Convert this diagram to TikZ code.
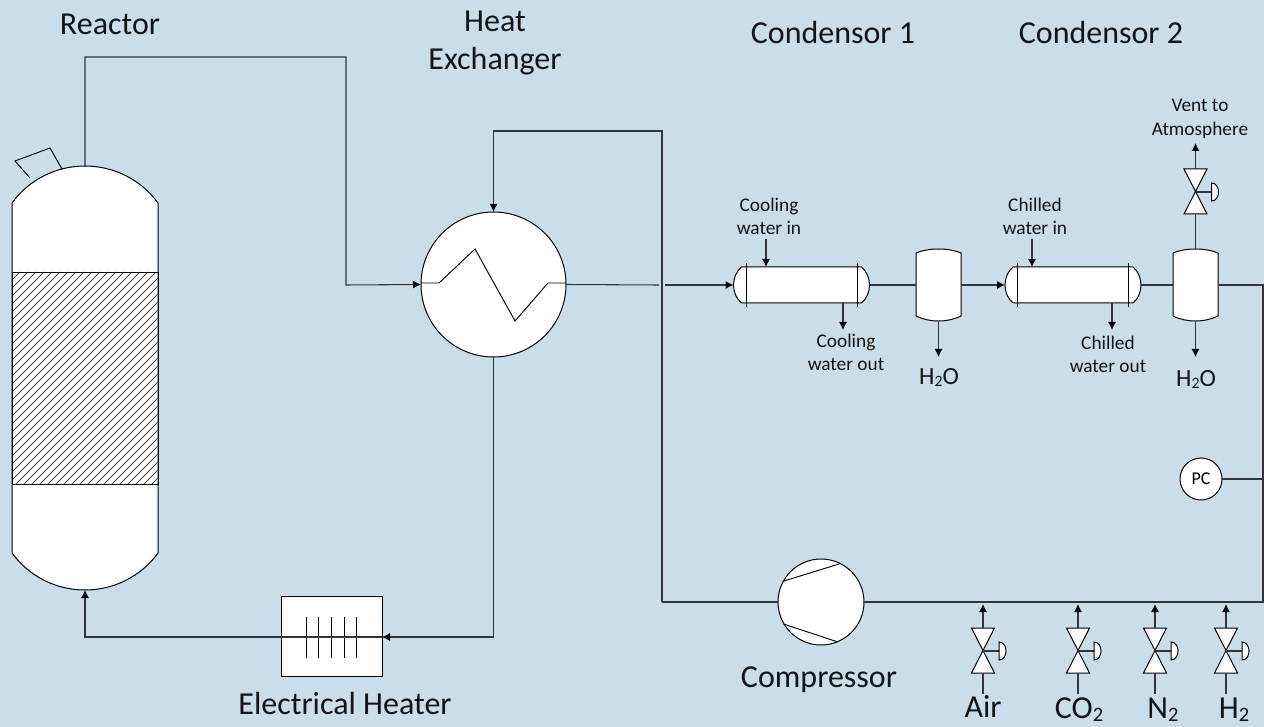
\documentclass[tikz,border=0pt]{standalone}
\usepackage{fontspec}
\setmainfont{Carlito}
\usetikzlibrary{arrows.meta}
\definecolor{bgblue}{HTML}{C9DEE9}
\definecolor{pipe}{HTML}{30363C}
\newcommand{\sbtwo}{\raisebox{-0.12em}{\scalebox{0.64}{2}}}
\tikzset{
  x=0.75pt,y=-0.75pt,
  pipeline/.style={draw=pipe,line width=0.8pt},
  flow/.style={pipeline,-{Latex[black,length=6pt,width=6pt]}},
  equip/.style={draw=black,line width=0.75pt,fill=white},
  inner/.style={draw=black,line width=0.7pt},
  bigtext/.style={font=\fontsize{24}{28.5}\selectfont,align=center,inner sep=0pt,text=black!92},
  midtext/.style={font=\fontsize{18.5}{22}\selectfont,align=center,inner sep=0pt,text=black!92},
  smalltext/.style={font=\fontsize{14.5}{17.5}\selectfont,align=center,inner sep=0pt,text=black!92},
  valvepic/.pic={
    \path[equip] (-11.5,-23) -- (11.5,-23) -- (-11.5,22) -- (11.5,22) -- cycle;
    \draw[pipeline] (0,0) -- (16,0);
    \path[equip] (16,-9) .. controls (21,-9) and (23,-4) .. (23,0) .. controls (23,4) and (21,9) .. (16,9) -- cycle;
    \coordinate (top) at (0,-23);
    \coordinate (bot) at (0,22);
  },
  condpic/.pic={
    \path[equip] (-60,-18) -- (60,-18) .. controls (65,-14) and (68,-7) .. (68,0) .. controls (68,7) and (65,14) .. (60,18) -- (-60,18) .. controls (-65,14) and (-68,7) .. (-68,0) .. controls (-68,-7) and (-65,-14) .. (-60,-18) -- cycle;
    \draw[inner] (-55.5,-22) -- (-55.5,22) (55.5,-22) -- (55.5,22);
    \coordinate (west) at (-68,0);
    \coordinate (east) at (68,0);
  },
  drumpic/.pic={
    \path[equip] (-22.5,-32) .. controls (-15,-35) and (-8,-36) .. (0,-36) .. controls (8,-36) and (15,-35) .. (22.5,-32) -- (22.5,31) .. controls (15,34.5) and (8,36) .. (0,36) .. controls (-8,36) and (-15,34.5) .. (-22.5,31) -- cycle;
    \coordinate (top) at (0,-36);
    \coordinate (bot) at (0,36);
    \coordinate (west) at (-22.5,0);
    \coordinate (east) at (22.5,0);
  },
}
\begin{document}
\begin{tikzpicture}
\useasboundingbox (0,0) rectangle (1264,727);
\fill[bgblue] (0,0) rectangle (1264,727);

% free corner and junction coordinates
\coordinate (rtop) at (85,166);
\coordinate (rbot) at (85,590);
\coordinate (c1) at (85,57);
\coordinate (c2) at (346,57);
\coordinate (c3) at (346,285);
\coordinate (c4) at (662,131);
\coordinate (c5) at (493.5,131);
\coordinate (c6) at (662,602);
\coordinate (c7) at (1263,602);
\coordinate (c8) at (1263,285);
\coordinate (gapL) at (659,285);
\coordinate (gapR) at (665,285);
\coordinate (c9) at (493.5,637);
\coordinate (c10) at (85,637);
\coordinate (cwin) at (766,239);
\coordinate (cwout) at (843,330);
\coordinate (cwintip) at (766,267);
\coordinate (cwoutst) at (843,303);
\coordinate (chin) at (1032,239);
\coordinate (chout) at (1112,330);
\coordinate (chintip) at (1032,267);
\coordinate (choutst) at (1112,303);
\coordinate (h2oa) at (938.5,357);
\coordinate (h2ob) at (1195.5,357);
\coordinate (vent) at (1195.5,143);
\coordinate (pcj) at (1263,479);

% reactor
\path[equip] (12,203) .. controls (29,179.6) and (56.2,166) .. (85,166) .. controls (113.8,166) and (141,179.6) .. (158,203) -- (158,553) .. controls (141,576.4) and (113.8,590) .. (85,590) .. controls (56.2,590) and (29,576.4) .. (12,553) -- cycle;
\begin{scope}
  \clip (12,272) rectangle (158,484);
  \foreach \k in {0,1,...,44} {
    \draw[black!70,line width=0.55pt] (12+\k*8-212,484) -- (12+\k*8,272);
  }
\end{scope}
\draw[inner] (12,272) rectangle (158,484);
\draw[inner] (30,178) -- (15,161) -- (50,148) -- (62,169);

% equipment
\node[equip,circle,minimum size=108.75pt,inner sep=0pt,outer sep=0pt] (hx) at (493.5,284.5) {};
\draw[inner] (hx.west |- 0,283) -- (439,283) -- (475,249) -- (515,321) -- (548,283) -- (hx.east |- 0,283);
\node[equip,rectangle,minimum width=75.75pt,minimum height=60pt,inner sep=0pt,outer sep=0pt] (heater) at (331.5,636) {};
\foreach \fx in {306,318.5,331,344,356} { \draw[inner] (\fx,617) -- (\fx,658); }
\node[equip,circle,minimum size=64.5pt,inner sep=0pt,outer sep=0pt] (comp) at (821,602) {};
\draw[inner] (784,581) -- (839,564) (783.5,624) -- (838,642);
\node[equip,circle,minimum size=31.5pt,inner sep=0pt,outer sep=0pt,font=\fontsize{13.5}{15}\selectfont] (pc) at (1201,479) {PC};

\pic (cd1) at (801.5,285) {condpic};
\pic (cd2) at (1073,285) {condpic};
\pic (dr1) at (938.5,285) {drumpic};
\pic (dr2) at (1195.5,285) {drumpic};
\pic (v0) at (1195.5,192) {valvepic};
\pic (v1) at (983,651) {valvepic};
\pic (v2) at (1078,651) {valvepic};
\pic (v3) at (1155,651) {valvepic};
\pic (v4) at (1226,651) {valvepic};
\coordinate (a1) at (983,694);
\coordinate (a2) at (1078,694);
\coordinate (a3) at (1155,694);
\coordinate (a4) at (1226,694);
\coordinate (t1) at (983,604);
\coordinate (t2) at (1078,604);
\coordinate (t3) at (1155,604);
\coordinate (t4) at (1226,604);

% connectors
\draw[flow] (rtop) -- (c1) -- (c2) -- (c3) -- (hx.west);
\draw[flow] (c6) -- (c4) -- (c5) -- (hx.north);
\draw[pipeline] (c6) -- (comp.west);
\draw[pipeline] (hx.east) -- (gapL);
\draw[flow] (gapR) -- (cd1west);
\draw[pipeline] (cd1east) -- (dr1west);
\draw[flow] (dr1east) -- (cd2west);
\draw[pipeline] (cd2east) -- (dr2west);
\draw[pipeline] (dr2east) -- (c8) -- (c7) -- (comp.east);
\draw[pipeline] (pc.east) -- (pcj);
\draw[flow] (hx.south) -- (c9) -- (heater.east |- c9);
\draw[flow] (heater.east |- c9) -- (c10) -- (rbot);
\draw[flow] (cwin) -- (cwintip);
\draw[flow] (cwoutst) -- (cwout);
\draw[flow] (chin) -- (chintip);
\draw[flow] (choutst) -- (chout);
\draw[flow] (dr1bot) -- (h2oa);
\draw[flow] (dr2bot) -- (h2ob);
\draw[pipeline] (dr2top) -- (v0bot);
\draw[flow] (v0top) -- (vent);
\foreach \i in {1,2,3,4} {
  \draw[pipeline] (a\i) -- (v\i bot);
  \draw[flow] (v\i top) -- (t\i);
}

% labels
\node[bigtext] (lreactor) at (110,24) {Reactor};
\node[bigtext] (lhx) at (495,43) {Heat\\Exchanger};
\node[bigtext] (lc1) at (833,33) {Condensor 1};
\node[bigtext] (lc2) at (1101,33) {Condensor 2};
\node[bigtext] (lheater) at (345,704) {Electrical Heater};
\node[bigtext] (lcomp) at (819,680) {Compressor};
\node[midtext,anchor=base] (lw1) at (939,384) {H\sbtwo O};
\node[midtext,anchor=base] (lw2) at (1196,386) {H\sbtwo O};
\node[bigtext,anchor=base] (lair) at (983,717) {Air};
\node[bigtext,anchor=base] (lco) at (1079,718) {CO\sbtwo};
\node[bigtext,anchor=base] (ln) at (1163,718) {N\sbtwo};
\node[bigtext,anchor=base] (lh) at (1234,718) {H\sbtwo};
\node[smalltext] at (769,216.5) {Cooling\\water in};
\node[smalltext] at (846,352.5) {Cooling\\water out};
\node[smalltext] at (1035,216.5) {Chilled\\water in};
\node[smalltext] at (1108,354.5) {Chilled\\water out};
\node[smalltext] at (1200,119) {Vent to\\Atmosphere};
\end{tikzpicture}
\end{document}
